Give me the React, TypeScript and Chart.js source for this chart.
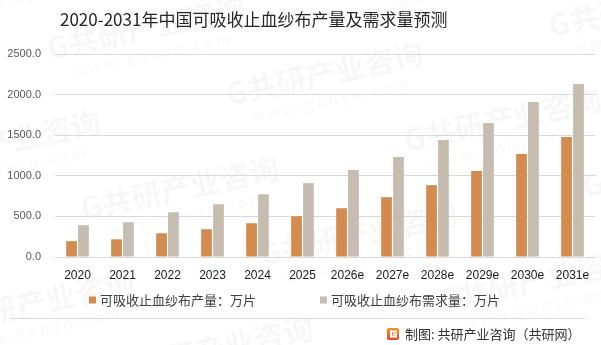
import React, { useEffect, useRef } from "react";
import { Chart, registerables } from "chart.js";

Chart.register(...registerables);

const titleText = "2020-2031年中国可吸收止血纱布产量及需求量预测";
const categories = ["2020", "2021", "2022", "2023", "2024", "2025", "2026e", "2027e", "2028e", "2029e", "2030e", "2031e"];
const productionLabel = "可吸收止血纱布产量：万片";
const demandLabel = "可吸收止血纱布需求量：万片";
const production = [195, 218, 292, 342, 416, 502, 601, 737, 885, 1058, 1268, 1478];
const demand = [391, 428, 551, 650, 773, 910, 1070, 1231, 1440, 1650, 1910, 2132];
const yTicks = [0, 500, 1000, 1500, 2000, 2500];
const sourceText = "制图: 共研产业咨询（共研网）";
const watermarkMain = "G共研产业咨询";
const watermarkSub = "w w w . g o n y n . c o m";

const ORANGE = "#D48B50";
const GRAY = "#C6BCB0";
const CJK = '"Noto Sans CJK SC", "Noto Sans", sans-serif';

const decorPlugin = {
  id: "decor",
  beforeDraw(chart: any) {
    const ctx = chart.ctx;
    ctx.save();
    ctx.fillStyle = "#ffffff";
    ctx.fillRect(0, 0, chart.width, chart.height);
    // watermark tiles
    ctx.translate(180, 188);
    ctx.rotate((-12 * Math.PI) / 180);
    ctx.textAlign = "center";
    ctx.textBaseline = "middle";
    for (let r = -5; r <= 5; r++) {
      for (let c = -3; c <= 3; c++) {
        const x = c * 330 + (r % 2 === 0 ? 0 : 165);
        const y = r * 82;
        ctx.fillStyle = "rgba(0,0,0,0.03)";
        ctx.font = "bold 30px " + CJK;
        ctx.fillText(watermarkMain, x, y);
        ctx.font = "15px " + CJK;
        ctx.fillText(watermarkSub, x, y + 27);
      }
    }
    ctx.restore();
  },
  afterDraw(chart: any) {
    const ctx = chart.ctx;
    ctx.save();
    // title
    ctx.fillStyle = "#262626";
    ctx.font = "17px " + CJK;
    ctx.textAlign = "left";
    ctx.textBaseline = "middle";
    ctx.fillText(titleText, 60, 20);
    // legend
    const items = chart.data.datasets.map((d: any) => ({ label: d.label, color: d.backgroundColor }));
    const legendX = [89, 320];
    ctx.font = "13px " + CJK;
    items.forEach((it: any, i: number) => {
      ctx.fillStyle = it.color;
      ctx.fillRect(legendX[i], 296.5, 7, 7);
      ctx.fillStyle = "#404040";
      ctx.fillText(it.label, legendX[i] + 11, 300);
    });
    // separator
    ctx.strokeStyle = "#d9d9d9";
    ctx.lineWidth = 1;
    ctx.beginPath();
    ctx.moveTo(10, 318.5);
    ctx.lineTo(585, 318.5);
    ctx.stroke();
    // logo
    const lx = 387, ly = 328;
    const grad = ctx.createLinearGradient(lx, ly, lx, ly + 12);
    grad.addColorStop(0, "#F7931E");
    grad.addColorStop(1, "#E8452C");
    ctx.fillStyle = grad;
    ctx.beginPath();
    ctx.moveTo(lx + 2, ly);
    ctx.lineTo(lx + 10, ly);
    ctx.quadraticCurveTo(lx + 12, ly, lx + 12, ly + 2);
    ctx.lineTo(lx + 12, ly + 10);
    ctx.quadraticCurveTo(lx + 12, ly + 12, lx + 10, ly + 12);
    ctx.lineTo(lx + 2, ly + 12);
    ctx.quadraticCurveTo(lx, ly + 12, lx, ly + 10);
    ctx.lineTo(lx, ly + 2);
    ctx.quadraticCurveTo(lx, ly, lx + 2, ly);
    ctx.fill();
    ctx.fillStyle = "#ffffff";
    ctx.fillRect(lx + 3, ly + 2.5, 7, 2);
    ctx.fillRect(lx + 3, ly + 2.5, 2, 7);
    ctx.fillRect(lx + 3, ly + 7.5, 7, 2);
    ctx.fillRect(lx + 8, ly + 5.5, 2, 4);
    ctx.fillRect(lx + 6, ly + 5.5, 4, 1.5);
    // source
    ctx.fillStyle = "#333333";
    ctx.font = "13px " + CJK;
    ctx.fillText(sourceText, 405, 334);
    ctx.restore();
  },
};

export default function App() {
  const ref = useRef<HTMLCanvasElement | null>(null);
  useEffect(() => {
    if (!ref.current) return;
    const chart = new Chart(ref.current, {
      type: "bar",
      data: {
        labels: categories,
        datasets: [
          { label: productionLabel, data: production, backgroundColor: ORANGE, categoryPercentage: 0.53, barPercentage: 0.9 },
          { label: demandLabel, data: demand, backgroundColor: GRAY, categoryPercentage: 0.53, barPercentage: 0.9 },
        ],
      },
      options: {
        responsive: false,
        animation: false,
        devicePixelRatio: 1,
        layout: { padding: { top: 54, right: 6, left: 0, bottom: 0 } },
        plugins: { legend: { display: false }, title: { display: false }, tooltip: { enabled: false } },
        scales: {
          x: {
            grid: { display: false, drawTicks: false },
            border: { display: false },
            ticks: { color: "#1a1a1a", font: { size: 12, family: '"Liberation Sans", sans-serif' }, padding: 11, maxRotation: 0 },
            afterFit: (s: any) => { s.height = 88; },
          },
          y: {
            min: 0,
            max: 2500,
            afterBuildTicks: (s: any) => { s.ticks = yTicks.map((v) => ({ value: v })); },
            grid: { color: "#d9d9d9", drawTicks: false },
            border: { display: false },
            ticks: {
              color: "#595959",
              font: { size: 11, family: '"Liberation Sans", sans-serif' },
              padding: 14,
              callback: (v: any) => Number(v).toFixed(1),
            },
            afterFit: (s: any) => { s.width = 55; },
          },
        },
      },
      plugins: [decorPlugin],
    });
    return () => chart.destroy();
  }, []);
  return (
    <div style={{ position: "absolute", left: 0, top: 0, width: 601, height: 345 }}>
      <canvas ref={ref} width={601} height={345} style={{ width: 601, height: 345, display: "block" }} />
    </div>
  );
}
